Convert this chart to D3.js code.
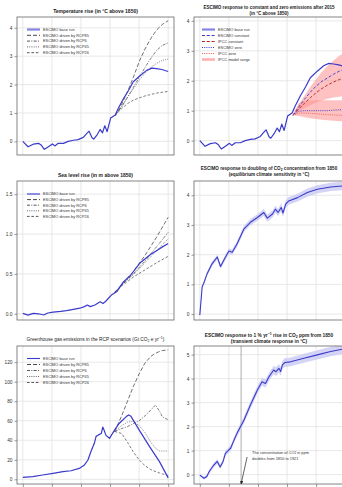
<!DOCTYPE html>
<html>
<head>
<meta charset="utf-8">
<script src="https://cdn.jsdelivr.net/npm/d3@7"></script>
<style>
body { margin: 0; background: #fff; }
svg { display: block; font-family: "Liberation Sans", Arial, sans-serif; }
</style>
</head>
<body>
<svg id="chart" width="342" height="487"></svg>
<script>
// ---- data ----
var gridYears = [1850, 1900, 1950, 2000, 2050, 2100];

// temperature rise, base run (°C above 1850)
var tempYears = [1850,1859,1868,1877,1882,1887,1894,1901,1905,1911,1920,1928,1937,1945,1954,1961,1964,1969,1972,1978,1983,1987,1991,1995,2001,2009,2014,2023,2032,2040,2052,2063,2072,2080,2089,2100];
var tempBase = [0,-0.19,-0.1,-0.07,-0.14,-0.28,-0.19,-0.09,-0.16,-0.07,-0.07,0,0.04,0.06,0.14,0.3,0.36,0.13,0.08,0.24,0.42,0.3,0.55,0.34,0.82,0.93,1.16,1.5,1.8,2.1,2.32,2.5,2.58,2.56,2.53,2.46];

// temperature in the RCP runs
var scenYears = [2008,2015,2020,2030,2040,2050,2060,2070,2080,2090,2100];
var tempRcp85 = [0.9,1.1,1.3,1.75,2.25,2.8,3.25,3.62,3.92,4.12,4.25];
var tempRcp6  = [0.9,1.08,1.22,1.55,1.9,2.25,2.6,2.92,3.2,3.38,3.47];
var tempRcp45 = [0.9,1.08,1.22,1.55,1.85,2.15,2.4,2.6,2.75,2.85,2.9];
var tempRcp26 = [0.9,1.05,1.15,1.33,1.45,1.53,1.6,1.65,1.7,1.73,1.76];

// constant / zero emissions after 2015
var stopYears = [2010,2020,2030,2040,2050,2060,2070,2080,2090,2100];
var escimoConst = [0.85,1.12,1.38,1.62,1.82,1.98,2.1,2.22,2.32,2.4];
var ipccConst   = [0.85,1.05,1.25,1.43,1.6,1.74,1.86,1.96,2.04,2.1];
var ipccConstLo = [0.85,0.98,1.08,1.18,1.27,1.34,1.4,1.44,1.47,1.5];
var ipccConstHi = [0.85,1.2,1.5,1.8,2.05,2.3,2.5,2.68,2.84,2.95];
var escimoZero  = [0.85,0.98,1.0,1.0,1.0,1.0,1.0,1.02,1.03,1.04];
var ipccZero    = [0.85,0.92,0.92,0.91,0.9,0.88,0.87,0.86,0.85,0.84];
var ipccZeroLo  = [0.85,0.82,0.78,0.75,0.72,0.7,0.68,0.66,0.65,0.64];
var ipccZeroHi  = [0.85,1.25,1.32,1.34,1.35,1.35,1.35,1.35,1.35,1.35];

// sea level rise (m above 1850)
var seaYears = [1850,1859,1868,1877,1886,1893,1902,1915,1925,1937,1948,1956,1961,1966,1974,1983,1988,1993,2003,2012,2023,2035,2052,2069,2086,2100];
var seaBase = [0.005,-0.016,0.005,0,-0.015,0.01,0.02,0.03,0.04,0.055,0.07,0.09,0.11,0.09,0.11,0.15,0.13,0.16,0.24,0.28,0.4,0.48,0.64,0.74,0.82,0.88];
var seaScenYears = [2008,2020,2040,2060,2080,2100];
var seaRcp85 = [0.27,0.36,0.53,0.73,0.96,1.21];
var seaRcp6  = [0.27,0.36,0.5,0.66,0.84,1.02];
var seaRcp45 = [0.27,0.36,0.49,0.64,0.79,0.94];
var seaRcp26 = [0.27,0.35,0.46,0.55,0.64,0.72];

// greenhouse gas emissions (Gt CO2e per year)
var ghgYears = [1850,1867,1884,1902,1919,1933,1947,1956,1962,1967,1973,1976,1980,1985,1987.5,1990,1993,1999,2008,2016,2028,2032,2036,2050,2068,2085,2100];
var ghgBase = [2,2.7,4.4,6.1,7.8,8.8,11.2,14.7,19.8,28.3,36.9,44,45.5,47,53.5,50,45,42,50.6,57.5,64.3,66,64.5,50.6,33.5,18.1,1.5];
var ghgScenYears = [2008,2020,2030,2040,2050,2060,2070,2078,2085,2090,2100];
var ghgRcp85 = [49,65,80,95,108,119,126,129,131,132,132.5];
var ghgRcp6  = [49,52,54,57,60,65,71,76,70,64,61];
var ghgRcp45 = [49,55,58.5,59.5,55,48,38,32,29,29,29];
var ghgRcp26 = [49,47,38,28,20,14,10,8,6.5,5.5,4];

// doubling of CO2 (equilibrium climate sensitivity)
var ecsYears = [1850,1854,1857,1862.6,1871,1880,1885.6,1891,1900,1905.7,1914,1926,1937,1949,1960,1966,1975,1980,1984.5,1990,1993,1997.7,2003,2018,2035,2052,2075,2100];
var ecs = [-0.03,0.91,1.05,1.36,1.69,1.92,1.6,1.8,2.12,2.08,2.36,2.87,3.09,3.25,3.42,3.23,3.37,3.53,3.42,3.59,3.4,3.7,3.81,3.92,4.09,4.2,4.28,4.32];
var ecsSpread = [0.02,0.05,0.06,0.07,0.08,0.08,0.08,0.09,0.09,0.09,0.1,0.1,0.11,0.11,0.12,0.12,0.12,0.12,0.12,0.13,0.13,0.13,0.13,0.13,0.14,0.14,0.14,0.14];

// 1 %/yr rise in CO2 (transient climate response)
var tcrYears = [1850,1857,1862,1866,1874,1880,1885,1890,1894,1900,1903,1909,1914,1926,1937,1949,1957,1963,1969,1977,1981,1986,1989,1992,1996,2006,2029,2052,2075,2100];
var tcr = [-0.02,-0.15,-0.08,0.12,0.4,0.55,0.32,0.55,0.89,1.03,1.1,1.45,1.72,2.28,2.9,3.53,3.87,3.8,4.08,4.36,4.29,4.43,4.3,4.57,4.67,4.7,4.85,4.99,5.13,5.25];
var tcrSpread = [0.03,0.06,0.07,0.08,0.09,0.1,0.1,0.1,0.11,0.11,0.12,0.12,0.13,0.14,0.15,0.16,0.17,0.17,0.17,0.18,0.18,0.18,0.18,0.18,0.18,0.18,0.19,0.19,0.2,0.2];
var doublingYear = 1921;

// ---- drawing ----
var svg = d3.select("#chart");
var blue = "#3a3acb";

function pts(xs, ys) {
	return xs.map(function(d, i){ return [d, ys[i]]; });
}

function panel(o) {
	var g = svg.append("g").attr("transform", "translate(" + o.left + "," + o.top + ")");
	var x = d3.scaleLinear().domain([1840, 2110]).range([0, o.w]);
	var y = d3.scaleLinear().domain(o.yDomain).range([o.h, 0]);
	var id = "clip" + o.name;
	var fs = o.titleSize || "5px";
	g.append("clipPath").attr("id", id)
		.append("rect").attr("width", o.w).attr("height", o.h);

	// grid
	g.selectAll(".vgrid").data(gridYears).enter().append("line")
		.attr("x1", function(d){ return x(d); }).attr("x2", function(d){ return x(d); })
		.attr("y1", 0).attr("y2", o.h)
		.attr("stroke", "#dedede").attr("stroke-width", 0.7);
	g.selectAll(".hgrid").data(o.yTicks).enter().append("line")
		.attr("y1", function(d){ return y(d); }).attr("y2", function(d){ return y(d); })
		.attr("x1", 0).attr("x2", o.w)
		.attr("stroke", "#dedede").attr("stroke-width", 0.7);

	// y axis
	var ax = g.append("g").call(d3.axisLeft(y).tickValues(o.yTicks).tickSize(2.5).tickPadding(2).tickFormat(o.fmt));
	ax.select(".domain").remove();
	ax.selectAll("line").attr("stroke", "#555").attr("stroke-width", 0.6);
	ax.selectAll("text").attr("font-size", "4.8px").attr("fill", "#333");

	// bottom ticks (only the lowest row shows them)
	if (o.xTicks) {
		var bx = g.append("g").attr("transform", "translate(0," + o.h + ")")
			.call(d3.axisBottom(x).tickValues(gridYears).tickSize(3).tickFormat(""));
		bx.select(".domain").remove();
		bx.selectAll("line").attr("stroke", "#555").attr("stroke-width", 0.6);
	}

	var plot = g.append("g").attr("clip-path", "url(#" + id + ")");

	g.append("rect").attr("width", o.w).attr("height", o.h)
		.attr("fill", "none").attr("stroke", "#666").attr("stroke-width", 0.8);

	// title (right column titles are kept narrow enough to stay inside the page)
	var cx = o.titleX || (o.left + o.w / 2);
	var t = svg.append("text")
		.attr("x", cx).attr("y", o.titleY)
		.attr("text-anchor", "middle")
		.attr("font-size", fs)
		.attr("font-weight", o.bold === false ? "normal" : "bold")
		.attr("fill", "#222");
	o.title(t);
	if (o.title2) {
		svg.append("text")
			.attr("x", cx).attr("y", o.titleY + 6)
			.attr("text-anchor", "middle")
			.attr("font-size", fs).attr("font-weight", "bold").attr("fill", "#222")
			.text(o.title2);
	}
	return { g: g, plot: plot, x: x, y: y };
}

function drawLine(p, data, stroke, width, dash) {
	var line = d3.line().x(function(d){ return p.x(d[0]); }).y(function(d){ return p.y(d[1]); });
	p.plot.append("path").datum(data)
		.attr("d", line)
		.attr("fill", "none")
		.attr("stroke", stroke)
		.attr("stroke-width", width)
		.attr("stroke-dasharray", dash || null)
		.attr("stroke-linejoin", "round");
}

function drawBand(p, xs, lo, hi, fill, opacity) {
	var area = d3.area()
		.x(function(d){ return p.x(d[0]); })
		.y0(function(d){ return p.y(d[1]); })
		.y1(function(d){ return p.y(d[2]); });
	p.plot.append("path")
		.datum(xs.map(function(d, i){ return [d, lo[i], hi[i]]; }))
		.attr("d", area)
		.attr("fill", fill)
		.attr("fill-opacity", opacity);
}

function legend(p, items, lx, ly, step) {
	var lg = p.g.append("g").attr("transform", "translate(" + lx + "," + ly + ")");
	items.forEach(function(it, i){
		lg.append("line")
			.attr("x1", 0).attr("x2", 13).attr("y1", i * step).attr("y2", i * step)
			.attr("stroke", it.stroke).attr("stroke-width", it.width)
			.attr("stroke-opacity", it.opacity || 1)
			.attr("stroke-dasharray", it.dash || null);
		lg.append("text")
			.attr("x", 16).attr("y", i * step + 1.3)
			.attr("font-size", "3.9px").attr("fill", "#333")
			.text(it.label);
	});
}

var scenStyle = {
	rcp85: { stroke: "#333", width: 0.7, dash: "4,2" },
	rcp6:  { stroke: "#444", width: 0.7, dash: "3,1.3,1,1.3" },
	rcp45: { stroke: "#555", width: 0.7, dash: "1,1.2" },
	rcp26: { stroke: "#444", width: 0.7, dash: "2.6,1.8" }
};
var scenLabels = ["ESCIMO driven by RCP85", "ESCIMO driven by RCP6", "ESCIMO driven by RCP45", "ESCIMO driven by RCP26"];
var scenKeys = ["rcp85", "rcp6", "rcp45", "rcp26"];

function scenLegend(p, baseStroke, baseWidth, baseOpacity, lx, ly, step) {
	var items = [{ label: "ESCIMO base run", stroke: baseStroke, width: baseWidth, opacity: baseOpacity }];
	scenKeys.forEach(function(k, i){
		var s = scenStyle[k];
		items.push({ label: scenLabels[i], stroke: s.stroke, width: 0.9, dash: s.dash });
	});
	legend(p, items, lx, ly, step);
}

// geometry of the 3 x 2 grid
var colLeft = [17, 194], colW = 157;
var rowTop = [17, 181, 346], rowH = [138, 139, 138];

// 1. temperature rise
var p1 = panel({ name: "p1", left: colLeft[0], top: rowTop[0], w: colW, h: rowH[0],
	yDomain: [-0.48, 4.38], yTicks: [0, 1, 2, 3, 4], fmt: d3.format("d"), titleY: 12.5,
	title: function(t){ t.text("Temperature rise (in °C above 1850)"); } });
[tempRcp85, tempRcp6, tempRcp45, tempRcp26].forEach(function(s, i){
	var st = scenStyle[scenKeys[i]];
	drawLine(p1, pts(scenYears, s), st.stroke, st.width, st.dash);
});
drawLine(p1, pts(tempYears, tempBase), blue, 1.2);
scenLegend(p1, "#8484e2", 2.2, 1, 10, 12.5, 5.8);

// 2. constant and zero emissions
var p2 = panel({ name: "p2", left: colLeft[1], top: rowTop[0], w: colW, h: rowH[0],
	yDomain: [-0.48, 4.13], yTicks: [0, 1, 2, 3, 4], fmt: d3.format("d"), titleY: 8.5,
	titleSize: "4.55px", titleX: 269,
	title: function(t){ t.text("ESCIMO response to constant and zero emissions after 2015"); },
	title2: "(in °C above 1850)" });
drawBand(p2, stopYears, ipccConstLo, ipccConstHi, "#ff8f8f", 0.55);
drawBand(p2, stopYears, ipccZeroLo, ipccZeroHi, "#ff8f8f", 0.55);
drawLine(p2, pts(tempYears, tempBase), blue, 1.2);
drawLine(p2, pts(stopYears, escimoConst), blue, 0.9, "3,1.8");
drawLine(p2, pts(stopYears, ipccConst), "#b22222", 0.9, "3,1.8");
drawLine(p2, pts(stopYears, escimoZero), blue, 0.9, "1,1.2");
drawLine(p2, pts(stopYears, ipccZero), "#e8584a", 0.9, "1,1.2");
legend(p2, [
	{ label: "ESCIMO base run", stroke: "#8484e2", width: 2.2 },
	{ label: "ESCIMO constant", stroke: blue, width: 1, dash: "3,1.8" },
	{ label: "IPCC constant", stroke: "#b22222", width: 1, dash: "3,1.8" },
	{ label: "ESCIMO zero", stroke: blue, width: 1, dash: "1,1.2" },
	{ label: "IPCC zero", stroke: "#e8584a", width: 1, dash: "1,1.2" },
	{ label: "IPCC model range", stroke: "#ffb0b0", width: 2.6 }
], 8, 12.5, 6);

// 3. sea level rise
var p3 = panel({ name: "p3", left: colLeft[0], top: rowTop[1], w: colW, h: rowH[1],
	yDomain: [-0.078, 1.665], yTicks: [0, 0.5, 1, 1.5], fmt: d3.format(".1f"), titleY: 177,
	title: function(t){ t.text("Sea level rise (in m above 1850)"); } });
[seaRcp85, seaRcp6, seaRcp45, seaRcp26].forEach(function(s, i){
	var st = scenStyle[scenKeys[i]];
	drawLine(p3, pts(seaScenYears, s), st.stroke, st.width, st.dash);
});
drawLine(p3, pts(seaYears, seaBase), blue, 1.2);
scenLegend(p3, blue, 1.1, 1, 10, 13, 5.6);

// 4. doubling of CO2
var p4 = panel({ name: "p4", left: colLeft[1], top: rowTop[1], w: colW, h: rowH[1],
	yDomain: [-0.2, 4.48], yTicks: [0, 1, 2, 3, 4], fmt: d3.format("d"), titleY: 170,
	titleSize: "4.6px", titleX: 269,
	title: function(t){
		t.append("tspan").text("ESCIMO response to doubling of CO");
		t.append("tspan").attr("font-size", "3.4px").attr("dy", 1).text("2");
		t.append("tspan").attr("dy", -1).text(" concentration from 1850");
	},
	title2: "(equilibrium climate sensitivity in °C)" });
drawBand(p4, ecsYears, ecs.map(function(v, i){ return v - ecsSpread[i]; }),
	ecs.map(function(v, i){ return v + ecsSpread[i]; }), "#c9c9f4", 0.8);
drawLine(p4, pts(ecsYears, ecs), blue, 1.1);

// 5. greenhouse gas emissions
var p5 = panel({ name: "p5", left: colLeft[0], top: rowTop[2], w: colW, h: rowH[2],
	yDomain: [-4.8, 136.6], yTicks: [0, 20, 40, 60, 80, 100, 120], fmt: d3.format("d"), titleY: 341,
	bold: false, xTicks: true, titleSize: "4.8px",
	title: function(t){
		t.append("tspan").text("Greenhouse gas emissions in the RCP scenarios (Gt CO");
		t.append("tspan").attr("font-size", "3.5px").attr("dy", 1).text("2");
		t.append("tspan").attr("dy", -1).text(" e yr");
		t.append("tspan").attr("font-size", "3.5px").attr("dy", -1.8).text("\u22121");
		t.append("tspan").attr("dy", 1.8).text(")");
	} });
[ghgRcp85, ghgRcp6, ghgRcp45, ghgRcp26].forEach(function(s, i){
	var st = scenStyle[scenKeys[i]];
	drawLine(p5, pts(ghgScenYears, s), st.stroke, st.width, st.dash);
});
drawLine(p5, pts(ghgYears, ghgBase), blue, 1.2);
scenLegend(p5, blue, 1.1, 1, 10, 12.5, 6);

// 6. 1 % per year rise in CO2
var p6 = panel({ name: "p6", left: colLeft[1], top: rowTop[2], w: colW, h: rowH[2],
	yDomain: [-0.39, 5.36], yTicks: [0, 1, 2, 3, 4, 5], fmt: d3.format("d"), titleY: 336.5,
	xTicks: true, titleSize: "4.8px", titleX: 269,
	title: function(t){
		t.append("tspan").text("ESCIMO response to 1 % yr");
		t.append("tspan").attr("font-size", "3.5px").attr("dy", -1.8).text("\u22121");
		t.append("tspan").attr("dy", 1.8).text(" rise in CO");
		t.append("tspan").attr("font-size", "3.5px").attr("dy", 1).text("2");
		t.append("tspan").attr("dy", -1).text(" ppm from 1850");
	},
	title2: "(transient climate response in °C)" });
p6.plot.append("line")
	.attr("x1", p6.x(doublingYear)).attr("x2", p6.x(doublingYear))
	.attr("y1", 0).attr("y2", rowH[2])
	.attr("stroke", "#777").attr("stroke-width", 0.6);
drawBand(p6, tcrYears, tcr.map(function(v, i){ return v - tcrSpread[i]; }),
	tcr.map(function(v, i){ return v + tcrSpread[i]; }), "#c9c9f4", 0.8);
drawLine(p6, pts(tcrYears, tcr), blue, 1.1);

// annotation with arrow
svg.append("defs").append("marker")
	.attr("id", "arrow").attr("viewBox", "0 0 10 10").attr("refX", 9).attr("refY", 5)
	.attr("markerWidth", 5).attr("markerHeight", 5).attr("orient", "auto")
	.append("path").attr("d", "M0,0 L10,5 L0,10 z").attr("fill", "#222");
p6.g.append("line")
	.attr("x1", p6.x(doublingYear) + 6).attr("y1", 111)
	.attr("x2", p6.x(doublingYear)).attr("y2", rowH[2])
	.attr("stroke", "#222").attr("stroke-width", 0.7)
	.attr("marker-end", "url(#arrow)");
var note = p6.g.append("text").attr("font-size", "3.9px").attr("fill", "#333");
note.append("tspan").attr("x", p6.x(doublingYear) + 11).attr("y", 107.5).text("The concentration of CO");
note.append("tspan").attr("font-size", "3px").attr("dy", 0.8).text("2");
note.append("tspan").attr("dy", -0.8).text(" in ppm");
p6.g.append("text").attr("font-size", "3.9px").attr("fill", "#333")
	.attr("x", p6.x(doublingYear) + 11).attr("y", 113.5)
	.text("doubles from 1850 to " + doublingYear);
</script>
</body>
</html>
